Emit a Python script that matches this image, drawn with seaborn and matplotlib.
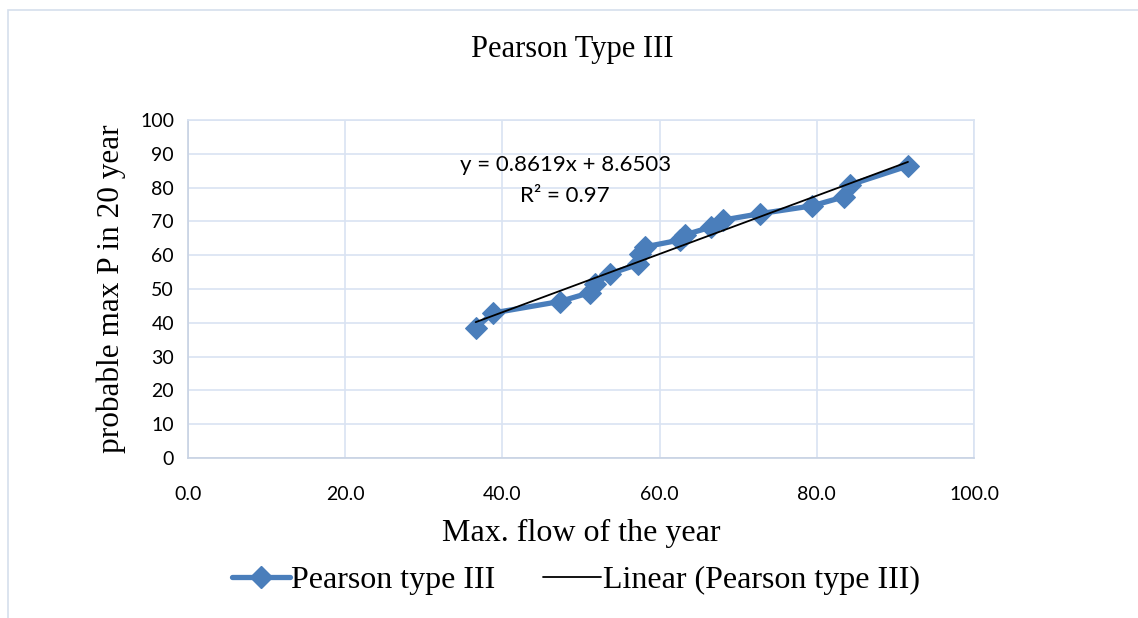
import matplotlib
matplotlib.use("Agg")
import matplotlib.pyplot as plt
import seaborn as sns
import pandas as pd
import numpy as np
from matplotlib.patches import Rectangle
from matplotlib.lines import Line2D

max_flow = [36.6, 38.8, 47.3, 51.1, 51.8, 53.7, 53.7, 57.3, 57.5, 58.2,
            62.6, 63.2, 66.5, 68.1, 72.8, 79.4, 83.5, 84.2, 91.6]
probable_p = [38.5, 42.9, 46.3, 48.9, 51.5, 53.6, 55.5, 57.3, 60.5, 62.5,
              64.5, 66.0, 68.3, 70.4, 72.3, 74.6, 77.3, 80.8, 86.4]
slope = 0.8619
intercept = 8.6503
r2_text = "R² = 0.97"
eq_text = "y = 0.8619x + 8.6503"

sns.set_theme(style="white")
plt.rcParams["text.color"] = "black"
serif = ["Liberation Serif", "DejaVu Serif"]
sans = ["Lato", "DejaVu Sans"]

blue = "#4a7ebb"
grid_c = "#d9e3f2"

df = pd.DataFrame({"x": max_flow, "y": probable_p})
xs = np.array([min(max_flow), max(max_flow)])
trend = pd.DataFrame({"x": xs, "y": slope * xs + intercept})

fig = plt.figure(figsize=(11.38, 6.18), dpi=100)
fig.patches.append(Rectangle((8 / 1138, -0.1), 1.2, 1.1 - 10 / 618, transform=fig.transFigure,
                             fill=False, edgecolor="#d6dfec", linewidth=1.2))
ax = fig.add_axes([188 / 1138, 1 - 458 / 618, (974 - 188) / 1138, (458 - 120) / 618])

sns.lineplot(data=df, x="x", y="y", ax=ax, color=blue, linewidth=3.8,
             marker="D", markersize=11, markeredgecolor=blue, sort=False, zorder=3)
sns.lineplot(data=trend, x="x", y="y", ax=ax, color="black", linewidth=1.3, zorder=4)

ax.set_xlim(0, 100)
ax.set_ylim(0, 100)
ax.set_xticks(np.arange(0, 101, 20))
ax.set_yticks(np.arange(0, 101, 10))
ax.set_xticklabels([f"{v:.1f}" for v in np.arange(0, 101, 20)], family=sans, fontsize=14)
ax.set_yticklabels([f"{v}" for v in range(0, 101, 10)], family=sans, fontsize=14)
ax.tick_params(axis="x", length=0, pad=20, colors="black")
ax.tick_params(axis="y", length=0, pad=10, colors="black")
ax.grid(True, color=grid_c, linewidth=1.2)
ax.set_axisbelow(True)
for s in ax.spines.values():
    s.set_color(grid_c)
    s.set_linewidth(1.2)
ax.spines["bottom"].set_color("#c7d2e3")
ax.spines["left"].set_color("#c7d2e3")

ax.set_xlabel("Max. flow of the year", family=serif, fontsize=23, labelpad=12, color="black")
ax.set_ylabel("probable max P in 20 year", family=serif, fontsize=22.5, labelpad=10, color="black")
ax.text(48, 86.7, eq_text, family=sans, fontsize=16, ha="center", va="center")
ax.text(48, 77.5, r2_text, family=sans, fontsize=16, ha="center", va="center")

fig.text(0.503, 1 - 50 / 618, "Pearson Type III", family=serif, fontsize=22,
         ha="center", va="center")

handles = [Line2D([], [], color=blue, linewidth=3.8, marker="D", markersize=11),
           Line2D([], [], color="black", linewidth=1.3)]
fig.legend(handles, ["Pearson type III", "Linear (Pearson type III)"],
           loc="center", bbox_to_anchor=(0.506, 1 - 580 / 618), ncol=2, frameon=False,
           prop={"family": serif, "size": 23}, handlelength=1.8, handletextpad=0.05,
           columnspacing=1.5)

fig.savefig("out.png", dpi=100)
